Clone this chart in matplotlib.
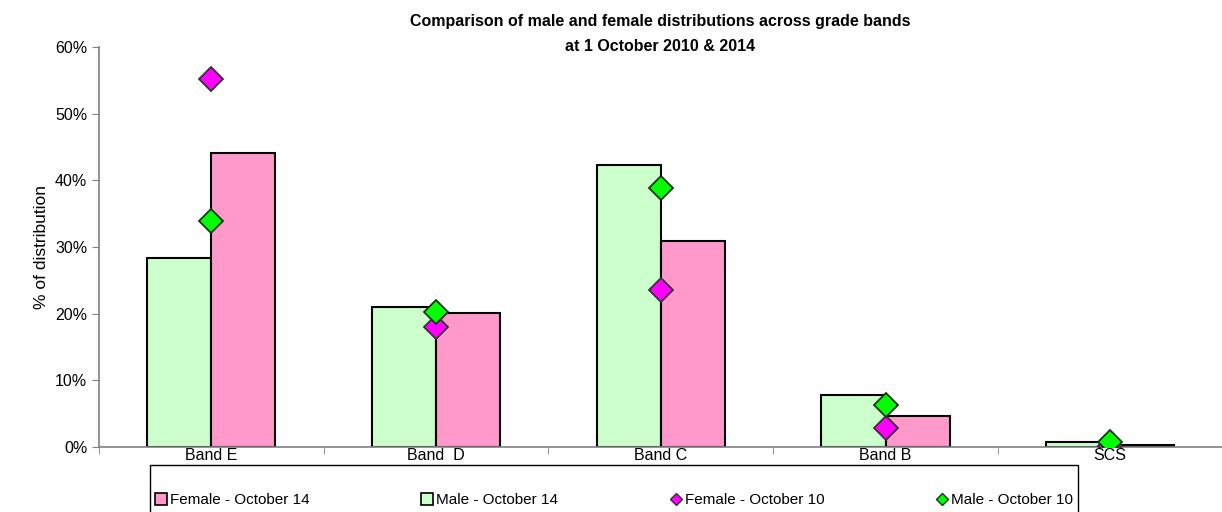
import numpy as np
import matplotlib.pyplot as plt
from matplotlib.patches import Patch, Rectangle
from matplotlib.lines import Line2D
from matplotlib.ticker import PercentFormatter

plt.rcParams['font.family'] = ['Liberation Sans', 'DejaVu Sans']

bands = ['Band E', 'Band  D', 'Band C', 'Band B', 'SCS']
male_14 = [28.3, 21.0, 42.3, 7.8, 0.75]
female_14 = [44.1, 20.1, 30.9, 4.6, 0.3]
male_10 = [33.9, 20.2, 38.8, 6.3, 0.7]
female_10 = [55.2, 18.0, 23.5, 2.8, 0.2]

pink = '#ff99cc'
green = '#ccffcc'
W, H = 1222, 512

fig = plt.figure(figsize=(W / 100, H / 100), dpi=100)
ax = fig.add_axes([0.081, 0.127, 0.9195, 0.781])

x = np.arange(len(bands))
w = 0.285
ax.bar(x - w / 2, male_14, w, color=green, edgecolor='black', linewidth=1.5, zorder=2)
ax.bar(x + w / 2, female_14, w, color=pink, edgecolor='black', linewidth=1.5, zorder=2)
ax.plot(x, female_10, 'D', color='#ff00ff', markeredgecolor='#333333',
        markeredgewidth=1.3, markersize=12.5, linestyle='none', zorder=3)
ax.plot(x, male_10, 'D', color='#00ff00', markeredgecolor='#1a331a',
        markeredgewidth=1.3, markersize=12.5, linestyle='none', zorder=4)

ax.set_xlim(-0.5, len(bands) - 0.5)
ax.set_ylim(0, 60)
ax.set_yticks(np.arange(0, 61, 10))
ax.yaxis.set_major_formatter(PercentFormatter(decimals=0))
ax.set_xticks(x)
ax.set_xticklabels(bands)
ax.set_xticks(np.arange(-0.5, len(bands), 1), minor=True)
ax.tick_params(axis='x', which='major', length=0, labelsize=11.5, pad=1)
ax.tick_params(axis='x', which='minor', length=5, color='#808080', direction='out')
ax.tick_params(axis='y', length=5, color='#808080', labelsize=11.5)
for s in ['top', 'right']:
    ax.spines[s].set_visible(False)
for s in ['left', 'bottom']:
    ax.spines[s].set_color('#808080')
    ax.spines[s].set_linewidth(1.2)

ax.set_ylabel('% of distribution', fontsize=12.5, labelpad=4)
fig.text(0.54, 1 - 14 / H, 'Comparison of male and female distributions across grade bands\nat 1 October 2010 & 2014',
         fontsize=11.5, fontweight='bold', ha='center', va='top', linespacing=1.85)

# legend box (runs off the bottom edge like the original)
fig.add_artist(Rectangle((150 / W, -0.1), 928 / W, 0.1 + 1 - 465 / H, transform=fig.transFigure,
                         facecolor='white', edgecolor='black', linewidth=1.0, zorder=5))

handles = [
    Patch(facecolor=pink, edgecolor='black', linewidth=1.2),
    Patch(facecolor=green, edgecolor='black', linewidth=1.2),
    Line2D([], [], marker='D', color='#ff00ff', markeredgecolor='#333333', linestyle='none', markersize=6),
    Line2D([], [], marker='D', color='#00ff00', markeredgecolor='#1a331a', linestyle='none', markersize=6),
]
labels = ['Female - October 14', 'Male - October 14', 'Female - October 10', 'Male - October 10']
leg = fig.legend(handles, labels, loc='center left', bbox_to_anchor=(150 / W, 1 - 500 / H, 928 / W, 0),
                 mode='expand', ncol=4, fontsize=11, frameon=False,
                 handlelength=0.8, handleheight=0.8, handletextpad=0.2, borderpad=0.3,
                 borderaxespad=0)
leg.set_zorder(6)

fig.savefig('out.png', dpi=100)
